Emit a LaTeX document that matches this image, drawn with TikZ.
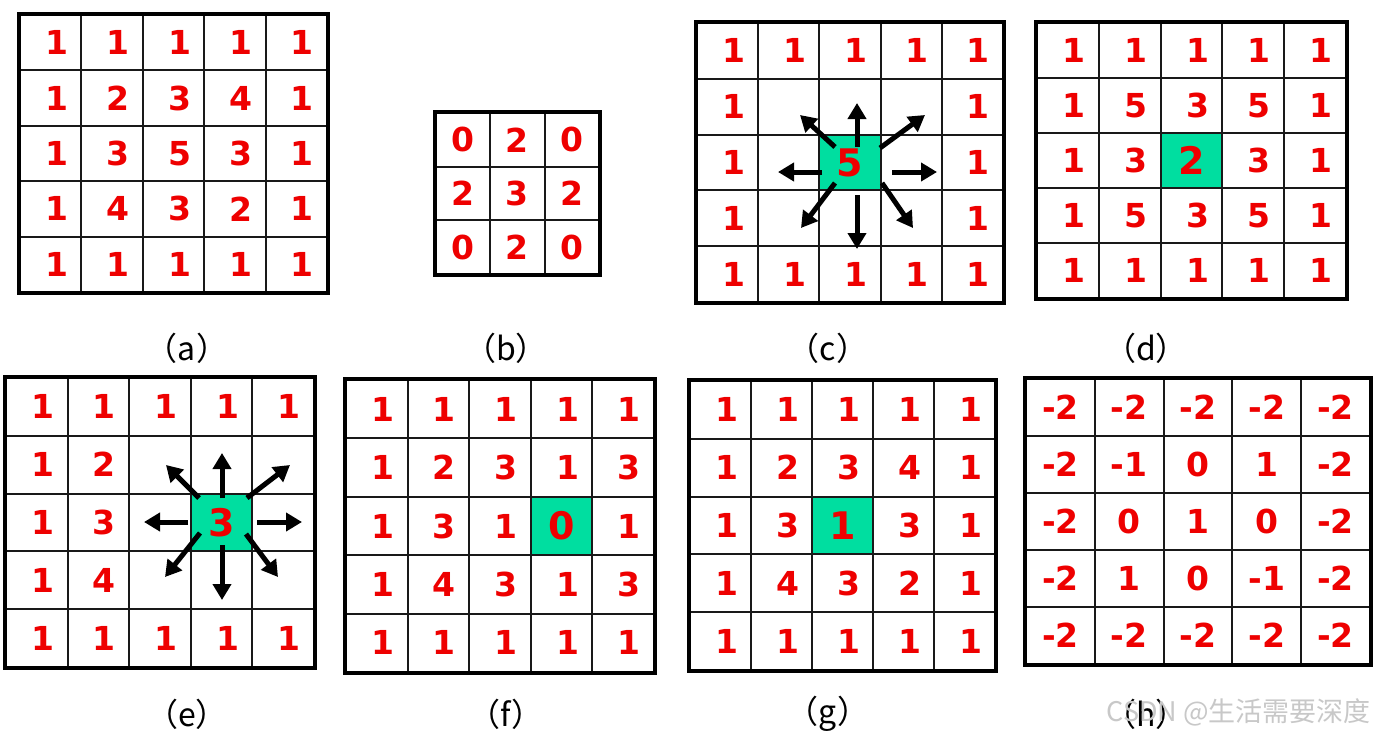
\documentclass[tikz,border=0pt]{standalone}
\usepackage{fontspec}
\usetikzlibrary{arrows.meta}
\newfontfamily\dvfont{DejaVu Sans}
\newfontfamily\cjkfont{Noto Sans CJK SC}
\definecolor{cellred}{RGB}{238,0,0}
\definecolor{mint}{RGB}{0,222,160}
\definecolor{wmgray}{RGB}{200,200,200}
\tikzset{
 cell/.style={draw=black!90, line width=2pt, inner sep=0pt, text=cellred,
   font=\dvfont\bfseries\fontsize{33}{33}\selectfont},
 hl/.style={cell, fill=mint, font=\dvfont\bfseries\fontsize{38}{38}\selectfont},
 outer/.style={draw=black, line width=4.5pt},
 arr/.style={draw=black, line width=5pt, -{Triangle[length=16pt,width=18pt]}},
 caption/.style={font=\cjkfont\fontsize{32}{32}\selectfont, text=black, inner sep=0pt},
 watermark/.style={font=\cjkfont\fontsize{27}{27}\selectfont, text=wmgray, anchor=east, inner sep=0pt},
}
\def\cshift{12pt}
\newcommand{\celltext}[1]{\hspace*{\cshift}#1}
% name, left, top, cell width, cell height, n, highlighted row, highlighted col, rows
\newcommand{\mkgrid}[9]{%
 \foreach \row [count=\r] in {#9} {
  \foreach \v [count=\c] in \row {
   \pgfmathtruncatemacro\hit{(\r==#7)*(\c==#8)}
   \ifnum\hit=1
    \node[hl, minimum width=#4pt, minimum height=#5pt] (#1-\r-\c) at ({#2+(\c-0.5)*#4},{#3+(\r-0.5)*#5}) {\v};
   \else
    \node[cell, minimum width=#4pt, minimum height=#5pt] (#1-\r-\c) at ({#2+(\c-0.5)*#4},{#3+(\r-0.5)*#5}) {\celltext{\v}};
   \fi
  }
 }
 \draw[outer] (#1-1-1.north west) rectangle (#1-#6-#6.south east);
}
\begin{document}
\begin{tikzpicture}[x=1pt,y=-1pt]
\useasboundingbox[fill=white] (0,0) rectangle (1375,736);

\mkgrid{a}{20}{15}{61.4}{55.4}{5}{0}{0}{{1,1,1,1,1},{1,2,3,4,1},{1,3,5,3,1},{1,4,3,2,1},{1,1,1,1,1}}
\def\cshift{0pt}
\mkgrid{b}{436}{113}{54.3}{53.7}{3}{0}{0}{{0,2,0},{2,3,2},{0,2,0}}
\def\cshift{12pt}
\mkgrid{c}{697}{23}{61.2}{55.8}{5}{3}{3}{{1,1,1,1,1},{1,{},{},{},1},{1,{},5,{},1},{1,{},{},{},1},{1,1,1,1,1}}
\mkgrid{d}{1037}{23}{61.8}{55}{5}{3}{3}{{1,1,1,1,1},{1,5,3,5,1},{1,3,2,3,1},{1,5,3,5,1},{1,1,1,1,1}}
\mkgrid{e}{6}{378}{61.6}{57.8}{5}{3}{4}{{1,1,1,1,1},{1,2,{},{},{}},{1,3,{},3,{}},{1,4,{},{},{}},{1,1,1,1,1}}
\mkgrid{f}{346}{380}{61.6}{58.4}{5}{3}{4}{{1,1,1,1,1},{1,2,3,1,3},{1,3,1,0,1},{1,4,3,1,3},{1,1,1,1,1}}
\mkgrid{g}{690}{381}{61}{57.8}{5}{3}{3}{{1,1,1,1,1},{1,2,3,4,1},{1,3,1,3,1},{1,4,3,2,1},{1,1,1,1,1}}
\def\cshift{0pt}
\mkgrid{h}{1026}{379}{68.8}{57}{5}{0}{0}{{-2,-2,-2,-2,-2},{-2,-1,0,1,-2},{-2,0,1,0,-2},{-2,1,0,-1,-2},{-2,-2,-2,-2,-2}}

% arrows of (c)
\coordinate (cUt) at (857,147);  \coordinate (cUh) at (857,103);
\coordinate (cDt) at (857,195);  \coordinate (cDh) at (857,249);
\coordinate (cLt) at (822,172);  \coordinate (cLh) at (778,172);
\coordinate (cRt) at (892,172);  \coordinate (cRh) at (937,172);
\coordinate (cULt) at (835,147); \coordinate (cULh) at (800,115);
\coordinate (cURt) at (880,148); \coordinate (cURh) at (925,115);
\coordinate (cDLt) at (835,183); \coordinate (cDLh) at (801,228);
\coordinate (cDRt) at (882,183); \coordinate (cDRh) at (913,228);
\foreach \k in {U,D,L,R,UL,UR,DL,DR} \draw[arr] (c\k t) -- (c\k h);

% arrows of (e)
\coordinate (eUt) at (222,498);  \coordinate (eUh) at (222,453);
\coordinate (eDt) at (222,545);  \coordinate (eDh) at (222,600);
\coordinate (eLt) at (188,522);  \coordinate (eLh) at (144,522);
\coordinate (eRt) at (257,522);  \coordinate (eRh) at (302,522);
\coordinate (eULt) at (199,498); \coordinate (eULh) at (166,465);
\coordinate (eURt) at (247,498); \coordinate (eURh) at (290,465);
\coordinate (eDLt) at (200,533); \coordinate (eDLh) at (165,577);
\coordinate (eDRt) at (246,534); \coordinate (eDRh) at (278,577);
\foreach \k in {U,D,L,R,UL,UR,DL,DR} \draw[arr] (e\k t) -- (e\k h);

% captions
\node[caption] (capa) at (187,348) {（a）};
\node[caption] (capb) at (506,348) {（b）};
\node[caption] (capc) at (828,348) {（c）};
\node[caption] (capd) at (1146,348) {（d）};
\node[caption] (cape) at (187,714) {（e）};
\node[caption] (capf) at (506,714) {（f）};
\node[caption] (capg) at (828,714) {（g）};
\node[caption] (caph) at (1146,714) {（h）};
\node[watermark] (wm) at (1371,712) {CSDN @生活需要深度};
\end{tikzpicture}
\end{document}
